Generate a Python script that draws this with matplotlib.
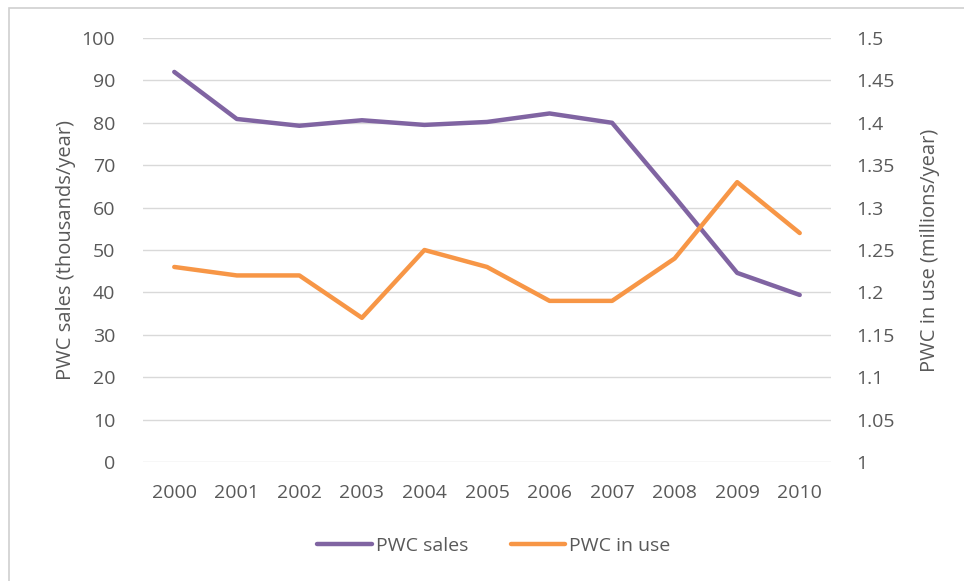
import matplotlib.pyplot as plt
from matplotlib.patches import Rectangle

plt.rcParams['font.family'] = ['Open Sans', 'DejaVu Sans']

years = ['2000', '2001', '2002', '2003', '2004', '2005', '2006', '2007', '2008', '2009', '2010']
sales = [92.0, 80.9, 79.3, 80.6, 79.5, 80.2, 82.2, 80.0, 62.5, 44.6, 39.4]      # thousands/year
in_use = [1.23, 1.22, 1.22, 1.17, 1.25, 1.23, 1.19, 1.19, 1.24, 1.33, 1.27]   # millions/year

purple = '#8064A2'
orange = '#F79646'
grey_txt = '#595959'

fig = plt.figure(figsize=(9.64, 5.81), dpi=100)
fig.patches.append(Rectangle((9 / 964, -0.01), 1.0, 1 - 8 / 581 + 0.01, transform=fig.transFigure,
                             fill=False, edgecolor='#D0D0D0', linewidth=1.2))

ax = fig.add_axes([143 / 964, 1 - 462 / 581, (831 - 143) / 964, (462 - 38) / 581])
ax2 = ax.twinx()

x = range(len(years))
l1, = ax.plot(x, sales, color=purple, lw=3.2, solid_capstyle='round', label='PWC sales')
l2, = ax2.plot(x, in_use, color=orange, lw=3.2, solid_capstyle='round', label='PWC in use')

ax.set_xlim(-0.5, len(years) - 0.5)
ax.set_ylim(0, 100)
ax.set_yticks(range(0, 101, 10))
ax2.set_ylim(1, 1.5)
ax2.set_yticks([1, 1.05, 1.1, 1.15, 1.2, 1.25, 1.3, 1.35, 1.4, 1.45, 1.5])
ax2.set_yticklabels(['1', '1.05', '1.1', '1.15', '1.2', '1.25', '1.3', '1.35', '1.4', '1.45', '1.5'])
ax.set_xticks(list(x))
ax.set_xticklabels(years)

ax.grid(axis='y', color='#D9D9D9', lw=1)
ax.set_axisbelow(True)
for a in (ax, ax2):
    for s in a.spines.values():
        s.set_visible(False)
    a.tick_params(length=0, labelsize=14, labelcolor=grey_txt)
ax.tick_params(axis='y', pad=20)
ax2.tick_params(axis='y', pad=18)
ax.tick_params(axis='x', pad=16)

ax.set_ylabel('PWC sales (thousands/year)', fontsize=14.5, color=grey_txt, labelpad=4)
ax2.set_ylabel('PWC in use (millions/year)', fontsize=14.5, color=grey_txt, labelpad=18)

fig.legend(handles=[l1, l2], loc='center', bbox_to_anchor=(494 / 964, 1 - 546 / 581), ncol=2,
           frameon=False, fontsize=14, labelcolor=grey_txt, handlelength=2.8, handletextpad=0.2,
           columnspacing=2.2)

fig.savefig('out.png', dpi=100)
